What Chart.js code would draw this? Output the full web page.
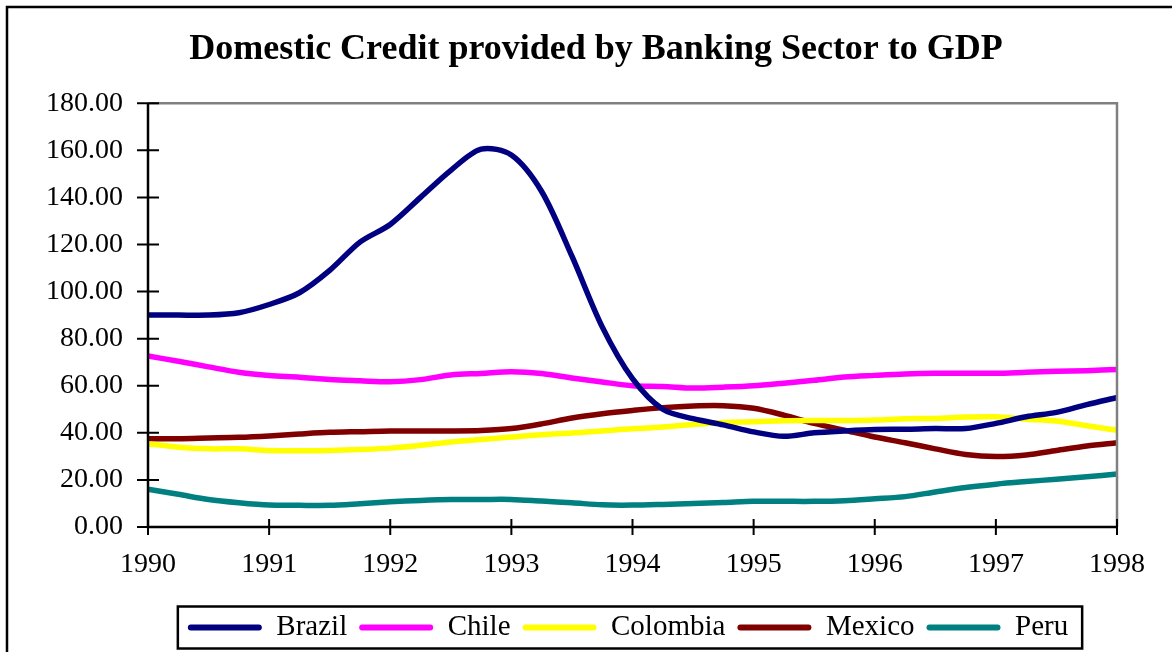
<!DOCTYPE html>
<html lang="en">
<head>
    <meta charset="UTF-8">
    <title>Domestic Credit provided by Banking Sector to GDP</title>
    <script src="https://cdn.jsdelivr.net/npm/chart.js"></script>
    <style>
        body { margin: 0; background: #ffffff; }
        #grafico { display: block; }
    </style>
</head>
<body>
    <canvas id="grafico" width="1172" height="652"></canvas>

<script>
// quarterly observations, 1990 Q1 .. 1998 Q1
const quarters = [
    '1990 Q1', '1990 Q2', '1990 Q3', '1990 Q4',
    '1991 Q1', '1991 Q2', '1991 Q3', '1991 Q4',
    '1992 Q1', '1992 Q2', '1992 Q3', '1992 Q4',
    '1993 Q1', '1993 Q2', '1993 Q3', '1993 Q4',
    '1994 Q1', '1994 Q2', '1994 Q3', '1994 Q4',
    '1995 Q1', '1995 Q2', '1995 Q3', '1995 Q4',
    '1996 Q1', '1996 Q2', '1996 Q3', '1996 Q4',
    '1997 Q1', '1997 Q2', '1997 Q3', '1997 Q4',
    '1998 Q1'
];

const brazil   = [90, 90, 90, 91, 94.5, 99.5, 109, 121, 128.5, 140, 151.5, 160.5, 158, 142.5, 115, 85, 63, 50, 46, 43.4, 40.4, 38.5, 40, 40.8, 41.4, 41.5, 41.8, 41.8, 44, 46.8, 48.7, 52, 55];
const chile    = [72.6, 70.4, 68, 65.7, 64.3, 63.6, 62.6, 62.1, 61.7, 62.6, 64.6, 65.2, 65.9, 65.2, 63.3, 61.6, 60, 59.7, 59, 59.4, 60, 61.1, 62.3, 63.7, 64.4, 65, 65.3, 65.3, 65.3, 65.7, 66.1, 66.4, 66.9];
const colombia = [35.4, 33.9, 33.2, 33.2, 32.5, 32.4, 32.5, 32.9, 33.5, 34.7, 36.1, 37.2, 38.2, 39.2, 39.9, 40.8, 41.7, 42.5, 43.5, 44.4, 44.7, 45.1, 45.2, 45.2, 45.4, 46, 46.1, 46.7, 46.8, 45.8, 45, 43, 41.1];
const mexico   = [37.5, 37.5, 37.8, 38.1, 38.7, 39.5, 40.2, 40.5, 40.8, 40.8, 40.8, 41, 41.8, 43.8, 46.3, 48.1, 49.5, 50.7, 51.4, 51.5, 50.4, 47.5, 44, 41.1, 38.2, 35.8, 33.2, 30.8, 29.9, 30.6, 32.5, 34.4, 35.8];
const peru     = [16, 13.9, 11.7, 10.3, 9.3, 9.2, 9.2, 9.9, 10.7, 11.3, 11.7, 11.7, 11.7, 11, 10.3, 9.4, 9.3, 9.6, 10, 10.4, 10.9, 10.9, 10.9, 11.2, 12, 12.9, 14.9, 16.8, 18.2, 19.3, 20.3, 21.3, 22.5];

const paises = ['Brazil', 'Chile', 'Colombia', 'Mexico', 'Peru'];
const series = [brazil, chile, colombia, mexico, peru];
const cores  = ['#000080', '#ff00ff', '#ffff00', '#800000', '#008080'];

const fonte = 'Liberation Serif, Times New Roman, serif';

// axes, frame and legend box drawn in the Excel way
const moldura = {
    id: 'moldura',
    afterLayout(chart) {
        const t = chart.titleBlock;
        t.left = 60; t.right = 1132; t.width = 1072;
        const l = chart.legend;
        l.left = 140; l.right = 1116; l.width = 976;
    },
    afterDatasetsDraw(chart) {
        const ctx = chart.ctx;
        const a = chart.chartArea;
        const x = chart.scales.x;
        const y = chart.scales.y;
        ctx.save();
        ctx.lineCap = 'butt';
        // gray frame top and right
        ctx.strokeStyle = '#808080';
        ctx.lineWidth = 2.5;
        ctx.beginPath();
        ctx.moveTo(a.left, a.top);
        ctx.lineTo(a.right, a.top);
        ctx.lineTo(a.right, a.bottom);
        ctx.stroke();
        // black axes
        ctx.strokeStyle = '#000000';
        ctx.beginPath();
        ctx.moveTo(a.left, a.top);
        ctx.lineTo(a.left, a.bottom);
        ctx.lineTo(a.right, a.bottom);
        ctx.stroke();
        // ticks cross the axes
        ctx.lineWidth = 2;
        ctx.beginPath();
        y.ticks.forEach(function (t) {
            const py = y.getPixelForValue(t.value);
            ctx.moveTo(a.left - 11, py);
            ctx.lineTo(a.left + 11, py);
        });
        quarters.forEach(function (q, i) {
            if (q.endsWith('Q1')) {
                const px = x.getPixelForValue(i);
                ctx.moveTo(px, a.bottom - 8);
                ctx.lineTo(px, a.bottom + 8);
            }
        });
        ctx.stroke();
        ctx.restore();
    },
    afterDraw(chart) {
        const ctx = chart.ctx;
        ctx.save();
        ctx.strokeStyle = '#000000';
        ctx.lineWidth = 2.5;
        // outer border (only top and left inside the picture)
        ctx.strokeRect(7, 7, 1200, 700);
        // legend box
        const hb = chart.legend.legendHitBoxes;
        if (hb && hb.length) {
            const first = hb[0];
            const last = hb[hb.length - 1];
            const meio = first.top + first.height / 2;
            ctx.strokeRect(first.left - 10, meio - 21, last.left + last.width - first.left + 24, 42);
        }
        ctx.restore();
    }
};

const datasets = [];
for (let i = 0; i < paises.length; i++) {
    datasets.push({
        label: paises[i],
        data: series[i],
        borderColor: cores[i],
        backgroundColor: cores[i],
        borderWidth: 5.5,
        pointRadius: 0,
        fill: false,
        tension: 0.3
    });
}

const config = {
    type: 'line',
    data: { labels: quarters, datasets: datasets },
    options: {
        responsive: false,
        animation: false,
        devicePixelRatio: 1,
        layout: { padding: { left: 0, right: 55, top: 0, bottom: 0 } },
        plugins: {
            tooltip: { enabled: false },
            title: {
                display: true,
                text: 'Domestic Credit provided by Banking Sector to GDP',
                color: '#000000',
                font: { family: fonte, size: 36, weight: 'bold' },
                padding: { top: 28, bottom: 32 }
            },
            legend: {
                position: 'bottom',
                labels: {
                    color: '#000000',
                    font: { family: fonte, size: 29 },
                    boxWidth: 74,
                    boxHeight: 6,
                    padding: 12,
                    useBorderRadius: true,
                    borderRadius: 3,
                    generateLabels(chart) {
                        return chart.data.datasets.map(function (ds, i) {
                            return {
                                text: ds.label,
                                fillStyle: ds.borderColor,
                                strokeStyle: ds.borderColor,
                                lineWidth: 0,
                                borderRadius: 3,
                                hidden: false,
                                datasetIndex: i
                            };
                        });
                    }
                }
            }
        },
        scales: {
            x: {
                type: 'category',
                offset: false,
                grid: { display: false, drawTicks: false },
                border: { display: false },
                afterFit(scale) { scale.height = 74; },
                ticks: {
                    autoSkip: false,
                    maxRotation: 0,
                    padding: 21,
                    color: '#000000',
                    font: { family: fonte, size: 28 },
                    callback(value) {
                        const q = this.getLabelForValue(value);
                        return q.endsWith('Q1') ? q.slice(0, 4) : null;
                    }
                }
            },
            y: {
                min: 0,
                max: 180,
                grid: { display: false, drawTicks: false },
                border: { display: false },
                afterFit(scale) { scale.width = 148; },
                ticks: {
                    stepSize: 20,
                    padding: 25,
                    color: '#000000',
                    font: { family: fonte, size: 28 },
                    callback(v) { return v.toFixed(2); }
                }
            }
        }
    },
    plugins: [moldura]
};

let grafico = new Chart(document.getElementById('grafico'), config);
</script>
</body>
</html>
